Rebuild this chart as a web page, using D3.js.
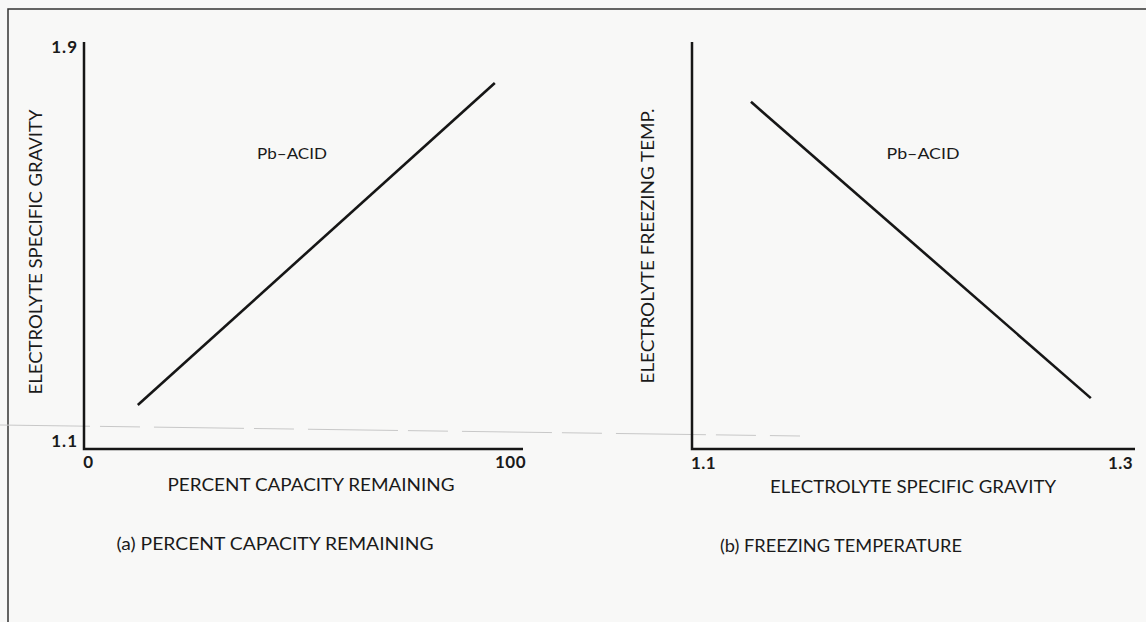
<!DOCTYPE html>
<html>
<head>
<meta charset="utf-8">
<script src="https://cdn.jsdelivr.net/npm/d3@7/dist/d3.min.js"></script>
<style>
  html, body { margin: 0; padding: 0; background: #f8f8f7; }
  svg text { font-family: Lato, "Open Sans", sans-serif; fill: #1a1a1a; }
</style>
</head>
<body>
<svg id="fig" width="1146" height="622"></svg>
<script>
// (a) specific gravity vs percent capacity remaining
const capacityTicks = [0, 100];
const gravityTicks = [1.1, 1.9];
const capacityLine = [11.8, 96.4];
const capacityGravity = [1.173, 1.827];

// (b) freezing temperature vs specific gravity (no y values printed on the axis)
const sgTicks = ["1.1", "1.3"];
const freezeSG = [1.123, 1.286];
const freezeTemp = [0.853, 0.125];   // relative height, axis unlabelled

const svg = d3.select("#fig");
const ink = "#161616";

// page frame (top and left rules of the scanned page)
svg.append("path")
    .attr("d", "M8,622 L8,9 L1146,9")
    .attr("fill", "none")
    .attr("stroke", "#333")
    .attr("stroke-width", 1.5);

// faint scan streak
svg.append("line")
    .attr("x1", 0).attr("y1", 425)
    .attr("x2", 800).attr("y2", 436)
    .attr("stroke", "#c8c8c8")
    .attr("stroke-width", 1)
    .attr("stroke-dasharray", "90,10,40,14");

function drawPanel(opt) {
    const g = svg.append("g");
    const xScale = d3.scaleLinear().domain(opt.xDomain).range(opt.xRange);
    const yScale = d3.scaleLinear().domain(opt.yDomain).range(opt.yRange);

    // axis lines
    g.append("path")
        .attr("d", `M${opt.ox},${opt.top} L${opt.ox},${opt.oy} L${opt.right},${opt.oy}`)
        .attr("fill", "none")
        .attr("stroke", ink)
        .attr("stroke-width", 2.5);

    // tick labels
    const xa = g.append("g")
        .attr("transform", `translate(0,${opt.oy})`)
        .call(d3.axisBottom(xScale).tickValues(opt.xTicks).tickSize(0).tickPadding(opt.xPad)
            .tickFormat(opt.xFormat));
    xa.select(".domain").remove();
    xa.selectAll("text").style("font-size", "17px").style("font-weight", "bold")
        .style("letter-spacing", "0.5px")
        .attr("fill", ink).style("font-family", "Lato, sans-serif");

    if (opt.yTicks) {
        const ya = g.append("g")
            .attr("transform", `translate(${opt.ox},0)`)
            .call(d3.axisLeft(yScale).tickValues(opt.yTicks).tickSize(0).tickPadding(6)
                .tickFormat(d3.format(".1f")));
        ya.select(".domain").remove();
        ya.selectAll("text").style("font-size", "17px").style("font-weight", "bold")
            .style("letter-spacing", "1px")
            .attr("fill", ink).style("font-family", "Lato, sans-serif");
    }

    // data line
    const pts = opt.xs.map((x, i) => [x, opt.ys[i]]);
    g.append("path")
        .datum(pts)
        .attr("fill", "none")
        .attr("stroke", ink)
        .attr("stroke-width", 2.6)
        .attr("d", d3.line().x(d => xScale(d[0])).y(d => yScale(d[1])));

    // labels
    g.append("text")
        .attr("x", opt.tag[0]).attr("y", opt.tag[1])
        .attr("text-anchor", "middle")
        .attr("textLength", opt.tag[2]).attr("lengthAdjust", "spacingAndGlyphs")
        .style("font-size", "16px")
        .text("Pb–ACID");

    g.append("text")
        .attr("x", opt.xTitle[0]).attr("y", opt.xTitle[1])
        .attr("text-anchor", "middle")
        .attr("textLength", opt.xTitle[2]).attr("lengthAdjust", "spacingAndGlyphs")
        .style("font-size", "17px")
        .text(opt.xLabel);

    g.append("text")
        .attr("transform", `translate(${opt.yTitle[0]},${opt.yTitle[1]}) rotate(-90)`)
        .attr("text-anchor", "middle")
        .attr("textLength", opt.yTitle[2]).attr("lengthAdjust", "spacingAndGlyphs")
        .style("font-size", "17px")
        .text(opt.yLabel);

    g.append("text")
        .attr("x", opt.caption[0]).attr("y", opt.caption[1])
        .attr("text-anchor", "middle")
        .attr("textLength", opt.caption[2]).attr("lengthAdjust", "spacingAndGlyphs")
        .style("font-size", "17px")
        .text(opt.captionText);
}

drawPanel({
    ox: 84, oy: 449, top: 42, right: 523,
    xDomain: [0, 100], xRange: [88, 510],
    yDomain: [1.1, 1.9], yRange: [441, 47],
    xTicks: capacityTicks, xFormat: d3.format("d"), xPad: 7,
    yTicks: gravityTicks,
    xs: capacityLine, ys: capacityGravity,
    tag: [292, 159, 70],
    xLabel: "PERCENT CAPACITY REMAINING", xTitle: [311, 491, 287],
    yLabel: "ELECTROLYTE SPECIFIC GRAVITY", yTitle: [42, 252, 285],
    captionText: "(a) PERCENT CAPACITY REMAINING", caption: [275, 550, 317]
});

drawPanel({
    ox: 692, oy: 449, top: 42, right: 1135,
    xDomain: [1.1, 1.3], xRange: [703, 1120],
    yDomain: [0, 1], yRange: [449, 42],
    xTicks: sgTicks.map(Number), xFormat: d3.format(".1f"), xPad: 8,
    yTicks: null,
    xs: freezeSG, ys: freezeTemp,
    tag: [923, 159, 73],
    xLabel: "ELECTROLYTE SPECIFIC GRAVITY", xTitle: [913, 493, 286],
    yLabel: "ELECTROLYTE FREEZING TEMP.", yTitle: [654, 246, 275],
    captionText: "(b) FREEZING TEMPERATURE", caption: [841, 552, 242]
});
</script>
</body>
</html>
